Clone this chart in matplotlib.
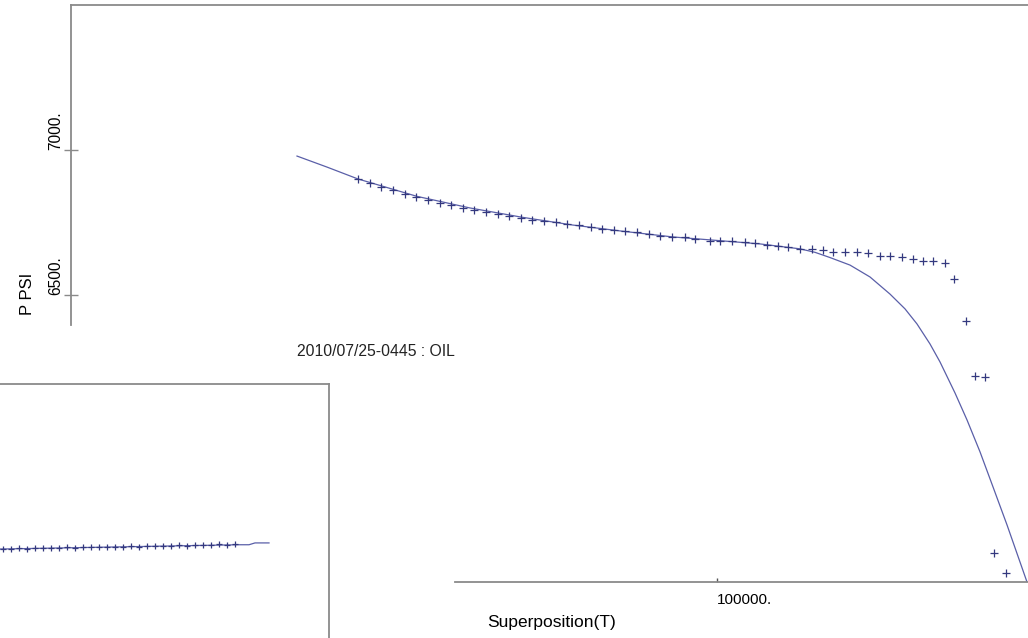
import numpy as np
import matplotlib
matplotlib.use("Agg")
import matplotlib.pyplot as plt

plt.rcParams['font.family'] = ['Liberation Sans', 'DejaVu Sans']

# measured points: superposition time vs pressure (psi)
sp_time = [28200, 30500, 32800, 35200, 37500, 39800, 42100, 44500, 46800, 49100,
           51400, 53800, 56100, 58400, 60700, 63000, 65400, 67700, 70000, 72300,
           74700, 77000, 79300, 81600, 84000, 86300, 88600, 91000, 93600, 95600,
           98600, 100600, 103000, 105600, 107600, 110000, 112200, 114200, 116600, 119000,
           121200, 123200, 125600, 128000, 130200, 132600, 134600, 137000, 139200, 141200,
           143200, 145600, 147400, 149800, 151600, 153600, 155400, 157800]
pressure = [6900, 6886, 6872, 6862, 6848, 6838, 6828, 6817, 6810, 6800,
            6793, 6786, 6779, 6772, 6766, 6760, 6755, 6750, 6745, 6740,
            6735, 6729, 6724, 6721, 6716, 6710, 6703, 6700, 6700, 6693,
            6686, 6686, 6686, 6683, 6679, 6672, 6669, 6666, 6659, 6659,
            6655, 6648, 6648, 6648, 6645, 6634, 6634, 6631, 6624, 6617,
            6617, 6610, 6555, 6410, 6221, 6217, 5610, 5541]

# model response
model_time = [16000, 22000, 28200, 40000, 50600, 61000, 71200, 81000, 91200, 100000,
              108600, 116600, 119600, 122600, 126600, 130600, 134600, 137600, 140000,
              142600, 144600, 147600, 150000, 152600, 155200, 158000, 162000]
model_p = [6979, 6941, 6900, 6840, 6800, 6768, 6741, 6720, 6700, 6688,
           6676, 6659, 6647, 6629, 6603, 6562, 6503, 6452, 6400,
           6331, 6269, 6162, 6069, 5959, 5838, 5707, 5510]

# small window behind
sub_time = [54, 62, 70, 78, 86, 94, 102, 110, 118, 126, 134, 142, 150, 158, 166,
            174, 182, 190, 198, 206, 214, 222, 230, 238, 246, 254, 262, 270, 278, 286]
sub_p = [6719.5, 6719.0, 6720.0, 6719.5, 6720.0, 6720.5, 6720.0, 6720.5, 6721.0, 6720.5,
         6721.5, 6721.0, 6721.5, 6722.0, 6721.5, 6722.0, 6722.5, 6722.0, 6722.5, 6723.0,
         6722.5, 6723.0, 6723.5, 6723.0, 6723.5, 6724.0, 6723.5, 6724.5, 6724.0, 6724.5]
sub_line_t = [51, 290, 300, 306, 320]
sub_line_p = [6719.3, 6724.0, 6724.0, 6726.0, 6726.0]

spine_col = "#8a8a8a"
mark_col = "#34397f"
line_col = "#5a5fa8"

W, H = 1028, 638
fig = plt.figure(figsize=(W / 100, H / 100), dpi=100)

ax = fig.add_axes([71 / W, 1 - 582 / H, 957 / W, 577 / H])
ax.plot(model_time, model_p, color=line_col, lw=0.9, zorder=2)
ax.plot(sp_time, pressure, ls="none", marker="+", ms=6, mew=0.9, color=mark_col, zorder=3)
ax.set_xlim(-29200, 162200)
ax.set_ylim(5510, 7500)

for s in ["left", "bottom", "top"]:
    ax.spines[s].set_color(spine_col)
    ax.spines[s].set_linewidth(1.3)
ax.spines["right"].set_visible(False)
ax.spines["left"].set_bounds(6397, 7500)
ax.spines["bottom"].set_bounds(47600, 162200)

ax.set_yticks([6500, 7000], labels=["6500.", "7000."])
ax.tick_params(axis="y", direction="inout", length=9.5, width=1, color=spine_col,
               labelrotation=90, pad=1, labelsize=11.2)
for lab in ax.get_yticklabels():
    lab.set_va("bottom")
    lab.set_ha("right")

ax.set_xticks([100000], labels=["100000."])
ax.tick_params(axis="x", direction="in", length=3, width=1, color="#555555",
               pad=8, labelsize=11)
for lab in ax.get_xticklabels():
    lab.set_ha("left")

ax.set_xlabel("Superposition(T)", fontsize=12.5)
ax.xaxis.set_label_coords((552 - 71) / 957, (582 - 622) / 577)
ax.xaxis.label.set_va("center")
ax.set_ylabel("P PSI", fontsize=12)
ax.yaxis.set_label_coords((27 - 71) / 957, (582 - 294) / 577)
ax.yaxis.label.set_va("center")

fig.text(297 / W, 1 - 351 / H, "2010/07/25-0445 : OIL", fontsize=11.3,
         ha="left", va="center", color="#222222")

# overlapping window in the lower left corner
axs = fig.add_axes([-51 / W, -20 / H, 380 / W, (638 + 20 - 384) / H])
axs.plot(sub_line_t, sub_line_p, color=line_col, lw=0.9, zorder=2)
axs.plot(sub_time, sub_p, ls="none", marker="+", ms=5, mew=0.9, color=mark_col, zorder=3)
axs.set_xlim(0, 380)
axs.set_ylim(6600, 6900)
axs.set_xticks([])
axs.set_yticks([])
axs.set_facecolor("white")
for s in axs.spines.values():
    s.set_color(spine_col)
    s.set_linewidth(1.3)

fig.savefig("out.png", dpi=100)
